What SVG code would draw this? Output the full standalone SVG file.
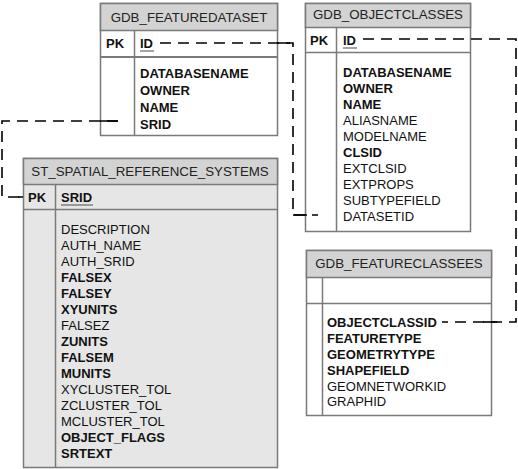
<svg xmlns="http://www.w3.org/2000/svg" width="518" height="469" viewBox="0 0 518 469">
<style>
.box{fill:#ffffff;stroke:#7a7a7a;stroke-width:1.5}
.gbox{fill:#e6e6e6;stroke:#7a7a7a;stroke-width:1.5}
.hdr{fill:#d3d3d3;stroke:#7a7a7a;stroke-width:1.5}
.sep{stroke:#7a7a7a;stroke-width:1.5;fill:none}
.ul{stroke:#666;stroke-width:1.2}
text{font-family:"Liberation Sans",Arial,sans-serif;font-size:13px;fill:#111}
.h{font-size:13.3px;fill:#222;text-anchor:middle}
.b{font-weight:bold}
.con{fill:none;stroke:#000;stroke-width:1.6;stroke-dasharray:11 7}
.tick{fill:none;stroke:#000;stroke-width:1.6}
</style>
<g id="gdb_featuredataset">
<rect class="box" x="100.5" y="3.5" width="177" height="132"/>
<rect class="hdr" x="100.5" y="3.5" width="177" height="27"/>
<line class="sep" x1="100.5" y1="57" x2="277.5" y2="57" style="stroke-width:2"/>
<line class="sep" x1="134.5" y1="30.5" x2="134.5" y2="135.5"/>
<text class="h" x="189" y="21.5">GDB_FEATUREDATASET</text>
<text class="b" x="106" y="48">PK</text>
<text class="b" x="140" y="48">ID</text>
<line class="ul" x1="140" y1="51" x2="154" y2="51"/>
<text class="b" x="140" y="78">DATABASENAME</text>
<text class="b" x="140" y="95">OWNER</text>
<text class="b" x="140" y="112">NAME</text>
<text class="b" x="140" y="129">SRID</text>
</g>
<g id="gdb_objectclasses">
<rect class="box" x="305.5" y="3.5" width="165" height="228"/>
<rect class="hdr" x="305.5" y="3.5" width="165" height="24"/>
<line class="sep" x1="305.5" y1="52.5" x2="470.5" y2="52.5"/>
<line class="sep" x1="336.5" y1="27.5" x2="336.5" y2="231.5"/>
<text class="h" x="388" y="18.5">GDB_OBJECTCLASSES</text>
<text class="b" x="310" y="45">PK</text>
<text class="b" x="343" y="45">ID</text>
<line class="ul" x1="343" y1="48" x2="357" y2="48"/>
<text class="b" x="343" y="77">DATABASENAME</text>
<text class="b" x="343" y="93">OWNER</text>
<text class="b" x="343" y="109">NAME</text>
<text x="343" y="125">ALIASNAME</text>
<text x="343" y="141">MODELNAME</text>
<text class="b" x="343" y="157">CLSID</text>
<text x="343" y="173">EXTCLSID</text>
<text x="343" y="189">EXTPROPS</text>
<text x="343" y="205">SUBTYPEFIELD</text>
<text x="343" y="221">DATASETID</text>
</g>
<g id="st_spatial_reference_systems">
<rect class="gbox" x="23.5" y="158.5" width="254" height="309"/>
<rect class="hdr" x="23.5" y="158.5" width="254" height="26"/>
<line class="sep" x1="23.5" y1="209.5" x2="277.5" y2="209.5"/>
<line class="sep" x1="55.5" y1="184.5" x2="55.5" y2="467.5"/>
<text class="h" x="150" y="176">ST_SPATIAL_REFERENCE_SYSTEMS</text>
<text class="b" x="28" y="202">PK</text>
<text class="b" x="61" y="202">SRID</text>
<line class="ul" x1="61" y1="205" x2="93" y2="205"/>
<text x="61" y="234">DESCRIPTION</text>
<text x="61" y="250">AUTH_NAME</text>
<text x="61" y="266">AUTH_SRID</text>
<text class="b" x="61" y="282">FALSEX</text>
<text class="b" x="61" y="298">FALSEY</text>
<text class="b" x="61" y="314">XYUNITS</text>
<text x="61" y="330">FALSEZ</text>
<text class="b" x="61" y="346">ZUNITS</text>
<text class="b" x="61" y="362">FALSEM</text>
<text class="b" x="61" y="378">MUNITS</text>
<text x="61" y="394">XYCLUSTER_TOL</text>
<text x="61" y="410">ZCLUSTER_TOL</text>
<text x="61" y="426">MCLUSTER_TOL</text>
<text class="b" x="61" y="442">OBJECT_FLAGS</text>
<text class="b" x="61" y="458">SRTEXT</text>
</g>
<g id="gdb_featureclassees">
<rect class="box" x="306.5" y="250.5" width="185" height="165"/>
<rect class="hdr" x="306.5" y="250.5" width="185" height="27"/>
<line class="sep" x1="306.5" y1="303.5" x2="491.5" y2="303.5"/>
<line class="sep" x1="322.5" y1="277.5" x2="322.5" y2="415.5"/>
<text class="h" x="399" y="268">GDB_FEATURECLASSEES</text>
<text class="b" x="327" y="327">OBJECTCLASSID</text>
<text class="b" x="327" y="343">FEATURETYPE</text>
<text class="b" x="327" y="359">GEOMETRYTYPE</text>
<text class="b" x="327" y="375">SHAPEFIELD</text>
<text x="327" y="391">GEOMNETWORKID</text>
<text x="327" y="406">GRAPHID</text>
</g>
<g id="connectors">
<path class="con" d="M160,43 H293 V215 H318"/>
<path class="tick" d="M277,43 H290 M293,215 H307"/>
<path class="con" d="M118,121 H2 V197 H23"/>
<path class="tick" d="M100,121 H118 M18,197 H23"/>
<path class="con" d="M363,39 H516 V322 H442"/>
<path class="tick" d="M483,322 H497"/>
</g>
</svg>
